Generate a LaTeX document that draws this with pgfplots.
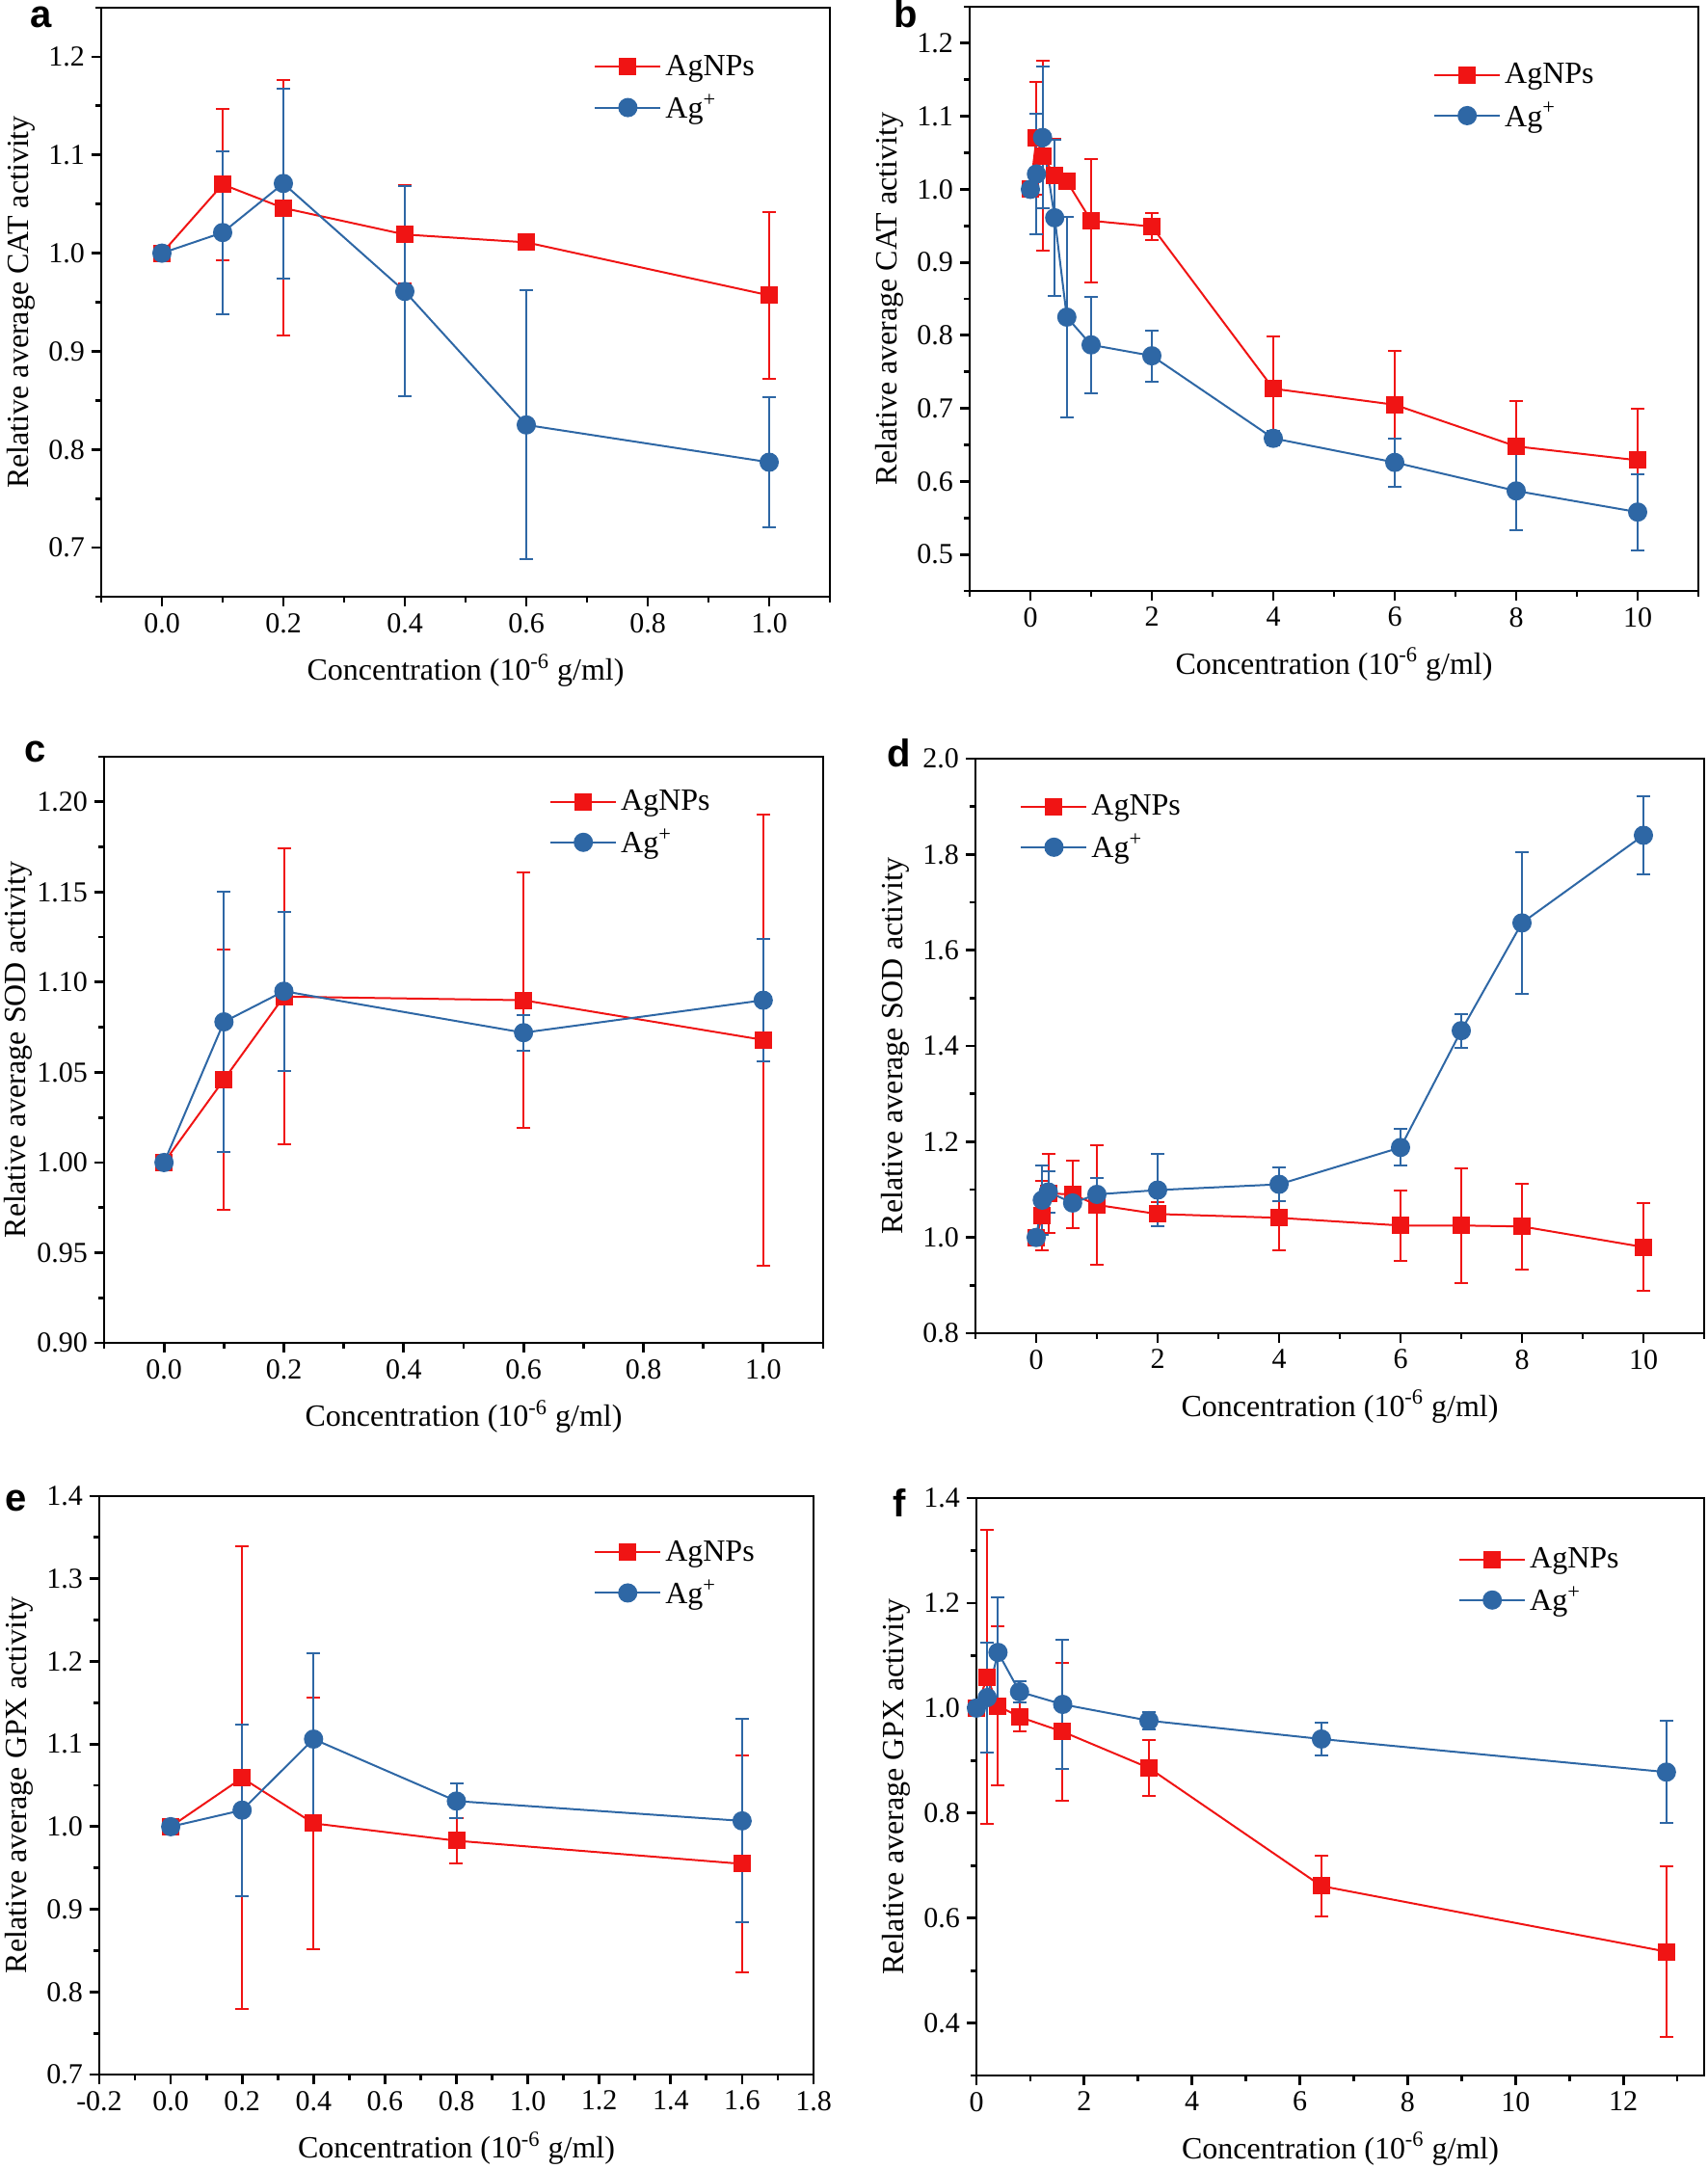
\documentclass[border=0pt]{standalone}
\usepackage{fontspec}
\setmainfont{Liberation Serif}
\newfontfamily\panelfont{Liberation Sans}
\usepackage{pgfplots}
\pgfplotsset{compat=1.18}
\definecolor{agred}{RGB}{240,20,20}
\definecolor{agblue}{RGB}{46,103,165}

\pgfplotsset{
  panel/.style={
    scale only axis,
    axis line style={line width=1.4pt},
    every tick/.style={line width=1.4pt, black},
    major tick length=5pt, minor tick length=3pt,
    tick align=outside,
    xtick pos=bottom, ytick pos=left,
    ticklabel style={font=\fontsize{15}{17}\selectfont},
    /pgf/number format/assume math mode=true,
    label style={font=\fontsize{16}{19}\selectfont},
    xlabel style={yshift=-4pt},
    xlabel={Concentration (10\textsuperscript{-6} g/ml)},
    legend cell align=left,
    legend style={draw=none, fill=none, font=\fontsize{16}{19}\selectfont,
      anchor=north west, row sep=4pt},
    legend image code/.code={\draw[mark repeat=2,mark phase=2,##1]
      plot coordinates {(0pt,0pt)(17pt,0pt)(34pt,0pt)};},
  },
  xdec/.style={xticklabel style={/pgf/number format/.cd, fixed, fixed zerofill, precision=1}},
  ydec/.style={yticklabel style={/pgf/number format/.cd, fixed, fixed zerofill, precision=#1}},
  agnps/.style={agred, line width=1pt, mark=square*, mark size=4pt,
    mark options={solid, fill=agred, draw=agred},
    error bars/.cd, y dir=both, y explicit,
    error bar style={line width=1pt, agred},
    error mark options={agred, line width=1pt, mark size=3.5pt, rotate=90}},
  agion/.style={agblue, line width=1pt, mark=*, mark size=4.5pt,
    mark options={solid, fill=agblue, draw=agblue},
    error bars/.cd, y dir=both, y explicit,
    error bar style={line width=1pt, agblue},
    error mark options={agblue, line width=1pt, mark size=3.5pt, rotate=90}},
}

\begin{document}
\begin{tikzpicture}
\useasboundingbox (0,0) rectangle (886pt,-1125pt);

% a: CAT, low concentrations
\begin{axis}[panel, xdec, ydec=1, at={(52.5pt,-309.5pt)}, anchor=south west,
  width=378pt, height=305.5pt,
  xmin=-0.1, xmax=1.1, ymin=0.65, ymax=1.25,
  xtick={0,0.2,...,1.0}, minor xtick={-0.1,0.1,0.3,0.5,0.7,0.9,1.1},
  ytick={0.7,0.8,...,1.21}, minor ytick={0.65,0.75,...,1.26},
  ylabel={Relative average CAT activity},
  legend style={at={(0.668,0.933)}}]
\addplot+[agnps] coordinates {
  (0,1.000) +- (0,0.004) (0.1,1.070) +- (0,0.077) (0.2,1.046) +- (0,0.130)
  (0.4,1.019) +- (0,0.050) (0.6,1.011) +- (0,0.003) (1.0,0.957) +- (0,0.085)};
\addlegendentry{AgNPs}
\addplot+[agion] coordinates {
  (0,1.000) +- (0,0.004) (0.1,1.021) +- (0,0.083) (0.2,1.071) +- (0,0.097)
  (0.4,0.961) +- (0,0.107) (0.6,0.825) +- (0,0.137) (1.0,0.787) +- (0,0.066)};
\addlegendentry{Ag\textsuperscript{+}}
\end{axis}

% b: CAT, full range
\begin{axis}[panel, ydec=1, at={(503pt,-306.5pt)}, anchor=south west,
  width=378pt, height=303pt,
  xmin=-1, xmax=11, ymin=0.45, ymax=1.25,
  xtick={0,2,...,10}, minor xtick={-1,1,3,5,7,9,11},
  ytick={0.5,0.6,...,1.21}, minor ytick={0.45,0.55,...,1.26},
  ylabel={Relative average CAT activity},
  legend style={at={(0.628,0.917)}}]
\addplot+[agnps] coordinates {
  (0,1.000) +- (0,0.004) (0.1,1.070) +- (0,0.077) (0.2,1.046) +- (0,0.130)
  (0.4,1.019) +- (0,0.050) (0.6,1.011) +- (0,0.003) (1,0.957) +- (0,0.085)
  (2,0.949) +- (0,0.018) (4,0.727) +- (0,0.072) (6,0.705) +- (0,0.074)
  (8,0.648) +- (0,0.062) (10,0.629) +- (0,0.071)};
\addlegendentry{AgNPs}
\addplot+[agion] coordinates {
  (0,1.000) +- (0,0.004) (0.1,1.021) +- (0,0.083) (0.2,1.071) +- (0,0.097)
  (0.4,0.961) +- (0,0.107) (0.6,0.825) +- (0,0.137) (1,0.787) +- (0,0.066)
  (2,0.772) +- (0,0.035) (4,0.659) +- (0,0.010) (6,0.626) +- (0,0.033)
  (8,0.587) +- (0,0.054) (10,0.558) +- (0,0.052)};
\addlegendentry{Ag\textsuperscript{+}}
\end{axis}

% c: SOD, low concentrations
\begin{axis}[panel, xdec, ydec=2, at={(54pt,-696.5pt)}, anchor=south west,
  width=373pt, height=304pt,
  xmin=-0.1, xmax=1.1, ymin=0.9, ymax=1.225,
  xtick={0,0.2,...,1.0}, minor xtick={-0.1,0.1,0.3,0.5,0.7,0.9,1.1},
  ytick={0.90,0.95,...,1.21}, minor ytick={0.925,0.975,...,1.226},
  ylabel={Relative average SOD activity},
  ylabel style={at={(axis description cs:-0.09,0.5)}, anchor=south},
  legend style={at={(0.611,0.957)}}]
\addplot+[agnps] coordinates {
  (0,1.000) +- (0,0.001) (0.1,1.046) +- (0,0.072) (0.2,1.092) +- (0,0.082)
  (0.6,1.090) +- (0,0.071) (1.0,1.068) +- (0,0.125)};
\addlegendentry{AgNPs}
\addplot+[agion] coordinates {
  (0,1.000) +- (0,0.001) (0.1,1.078) +- (0,0.072) (0.2,1.095) +- (0,0.044)
  (0.6,1.072) +- (0,0.010) (1.0,1.090) +- (0,0.034)};
\addlegendentry{Ag\textsuperscript{+}}
\end{axis}

% d: SOD, full range
\begin{axis}[panel, ydec=1, at={(506pt,-691.5pt)}, anchor=south west,
  width=378pt, height=298pt,
  xmin=-1, xmax=11, ymin=0.8, ymax=2.0,
  xtick={0,2,...,10}, minor xtick={-1,1,3,5,7,9,11},
  ytick={0.8,1.0,...,2.01}, minor ytick={0.9,1.1,...,1.91},
  ylabel={Relative average SOD activity},
  legend style={at={(0.053,0.951)}}]
\addplot+[agnps] coordinates {
  (0,1.000) +- (0,0.004) (0.1,1.046) +- (0,0.072) (0.2,1.092) +- (0,0.082)
  (0.6,1.090) +- (0,0.071) (1,1.068) +- (0,0.125) (2,1.049) +- (0,0.025)
  (4,1.041) +- (0,0.067) (6,1.025) +- (0,0.073) (7,1.025) +- (0,0.120)
  (8,1.023) +- (0,0.090) (10,0.980) +- (0,0.091)};
\addlegendentry{AgNPs}
\addplot+[agion] coordinates {
  (0,1.000) +- (0,0.004) (0.1,1.078) +- (0,0.072) (0.2,1.095) +- (0,0.044)
  (0.6,1.072) +- (0,0.010) (1,1.090) +- (0,0.034) (2,1.099) +- (0,0.075)
  (4,1.111) +- (0,0.035) (6,1.188) +- (0,0.038) (7,1.432) +- (0,0.035)
  (8,1.657) +- (0,0.148) (10,1.840) +- (0,0.081)};
\addlegendentry{Ag\textsuperscript{+}}
\end{axis}

% e: GPX, low concentrations
\begin{axis}[panel, xdec, ydec=1, at={(51.5pt,-1076pt)}, anchor=south west,
  width=370.5pt, height=300pt,
  xmin=-0.2, xmax=1.8, ymin=0.7, ymax=1.4,
  xtick={-0.2,0,...,1.81}, minor xtick={-0.1,0.1,...,1.71},
  ytick={0.7,0.8,...,1.41}, minor ytick={0.75,0.85,...,1.36},
  ylabel={Relative average GPX activity},
  legend style={at={(0.684,0.937)}}]
\addplot+[agnps] coordinates {
  (0,1.000) +- (0,0.003) (0.2,1.059) +- (0,0.280) (0.4,1.004) +- (0,0.152)
  (0.8,0.983) +- (0,0.027) (1.6,0.955) +- (0,0.131)};
\addlegendentry{AgNPs}
\addplot+[agion] coordinates {
  (0,1.000) +- (0,0.003) (0.2,1.020) +- (0,0.104) (0.4,1.106) +- (0,0.104)
  (0.8,1.031) +- (0,0.021) (1.6,1.007) +- (0,0.123)};
\addlegendentry{Ag\textsuperscript{+}}
\end{axis}

% f: GPX, full range
\begin{axis}[panel, ydec=1, at={(506.5pt,-1076.5pt)}, anchor=south west,
  width=377.5pt, height=299.5pt,
  xmin=0, xmax=13.5, ymin=0.3, ymax=1.4,
  xtick={0,2,...,12}, minor xtick={1,3,...,13},
  ytick={0.4,0.6,...,1.41}, minor ytick={0.3,0.5,...,1.31},
  ylabel={Relative average GPX activity},
  legend style={at={(0.654,0.928)}}]
\addplot+[agnps] coordinates {
  (0,1.000) +- (0,0.003) (0.2,1.059) +- (0,0.280) (0.4,1.004) +- (0,0.152)
  (0.8,0.983) +- (0,0.027) (1.6,0.955) +- (0,0.131) (3.2,0.886) +- (0,0.054)
  (6.4,0.661) +- (0,0.058) (12.8,0.536) +- (0,0.162)};
\addlegendentry{AgNPs}
\addplot+[agion] coordinates {
  (0,1.000) +- (0,0.003) (0.2,1.020) +- (0,0.104) (0.4,1.106) +- (0,0.104)
  (0.8,1.031) +- (0,0.021) (1.6,1.007) +- (0,0.123) (3.2,0.976) +- (0,0.017)
  (6.4,0.941) +- (0,0.032) (12.8,0.878) +- (0,0.097)};
\addlegendentry{Ag\textsuperscript{+}}
\end{axis}

% panel letters
\begin{scope}[every node/.style={font=\panelfont\bfseries\fontsize{20}{20}\selectfont, anchor=base, inner sep=0pt}]
\node at (21.5pt,-14pt) {a};
\node at (470pt,-14pt) {b};
\node at (18.5pt,-395pt) {c};
\node at (466.5pt,-397.5pt) {d};
\node at (8.5pt,-783.5pt) {e};
\node at (466.5pt,-786.5pt) {f};
\end{scope}
\end{tikzpicture}
\end{document}
